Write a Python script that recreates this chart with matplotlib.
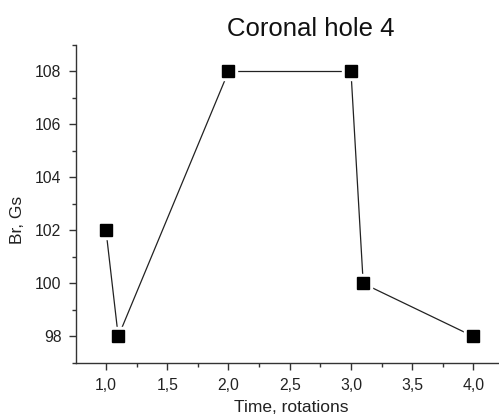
import matplotlib.pyplot as plt
from matplotlib.ticker import MultipleLocator, FuncFormatter

plt.rcParams['font.family'] = ['Liberation Sans', 'DejaVu Sans']

time = [1.0, 1.1, 2.0, 3.0, 3.1, 4.0]
br = [102, 98, 108, 108, 100, 98]

fig = plt.figure(figsize=(4.99, 4.16), dpi=100)
ax = fig.add_axes([76 / 499, 1 - 363 / 416, 1 - 76 / 499 + 0.02, (363 - 45) / 416])

ax.plot(time, br, color='#222222', lw=0.9, zorder=1)
# white halo so the line stops short of each marker
ax.plot(time, br, 's', color='white', markersize=12.5, zorder=2)
ax.plot(time, br, 's', color='black', markersize=8.6, zorder=3)

ax.set_xlim(0.755, 4.29)
ax.set_ylim(97, 109)
ax.xaxis.set_major_locator(MultipleLocator(0.5))
ax.xaxis.set_minor_locator(MultipleLocator(0.25))
ax.yaxis.set_major_locator(MultipleLocator(2))
ax.yaxis.set_minor_locator(MultipleLocator(1))
ax.xaxis.set_major_formatter(FuncFormatter(lambda v, p: ('%.1f' % v).replace('.', ',')))
ax.yaxis.set_major_formatter(FuncFormatter(lambda v, p: '%d' % v))

for s in ['top', 'right']:
    ax.spines[s].set_visible(False)
for s in ['left', 'bottom']:
    ax.spines[s].set_color('#333333')
    ax.spines[s].set_linewidth(1.0)
ax.tick_params(which='major', length=5, width=1, color='#333333', labelsize=11.3, labelcolor='#222222')
ax.tick_params(axis='x', which='major', pad=6)
ax.tick_params(axis='y', which='major', pad=5.5)
ax.tick_params(which='minor', length=3, width=1, color='#333333')

fig.text(291 / 499, 1 - 400 / 416, 'Time, rotations', fontsize=12.5, ha='center', va='top', color='#222222')
fig.text(18 / 499, 1 - 220 / 416, 'Br, Gs', fontsize=12.5, rotation=90, ha='center', va='center', color='#222222')
fig.text(311 / 499, 1 - 36 / 416, 'Coronal hole 4', fontsize=18.5, ha='center', va='baseline', color='#111111')

fig.savefig('out.png', dpi=100)
